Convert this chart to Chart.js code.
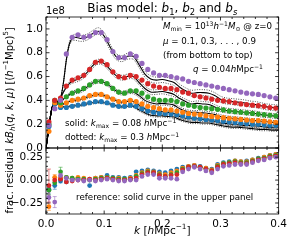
<!DOCTYPE html>
<html>
<head>
<meta charset="utf-8">
<script src="https://cdn.jsdelivr.net/npm/chart.js@4.4.1/dist/chart.umd.min.js"></script>
<style>
html, body { margin: 0; padding: 0; background: #fff; }
canvas { display: block; }
</style>
</head>
<body>
<canvas id="grafico" width="291" height="242"></canvas>
<script>
// k of the measured points [h/Mpc]
const kPontos = [0.005, 0.015, 0.025, 0.035, 0.045, 0.055, 0.065, 0.075, 0.085, 0.095,
    0.105, 0.115, 0.125, 0.135, 0.145, 0.155, 0.165, 0.175, 0.185, 0.195,
    0.205, 0.215, 0.225, 0.235, 0.245, 0.255, 0.265, 0.275, 0.285, 0.295,
    0.305, 0.315, 0.325, 0.335, 0.345, 0.355, 0.365, 0.375, 0.385, 0.395];

// measured k B_h, units of 1e8, mu = 0.9, 0.7, 0.5, 0.3, 0.1
const dadosMu09 = [0.19, 0.33, 0.40, 0.79, 0.93, 0.95, 0.93, 0.94, 0.97, 0.97,
    0.91, 0.81, 0.76, 0.76, 0.79, 0.77, 0.71, 0.66, 0.63, 0.61,
    0.61, 0.60, 0.59, 0.58, 0.56, 0.55, 0.54, 0.53, 0.52, 0.51,
    0.50, 0.49, 0.48, 0.47, 0.46, 0.455, 0.45, 0.44, 0.43, 0.42];
const dadosMu07 = [0.22, 0.40, 0.42, 0.52, 0.57, 0.59, 0.61, 0.66, 0.72, 0.73,
    0.70, 0.64, 0.60, 0.59, 0.61, 0.60, 0.57, 0.54, 0.52, 0.51,
    0.50, 0.50, 0.49, 0.47, 0.46, 0.44, 0.43, 0.42, 0.41, 0.40,
    0.395, 0.39, 0.38, 0.37, 0.365, 0.36, 0.355, 0.35, 0.34, 0.335];
const dadosMu05 = [0.20, 0.40, 0.38, 0.43, 0.46, 0.48, 0.50, 0.53, 0.56, 0.56,
    0.54, 0.50, 0.47, 0.46, 0.48, 0.48, 0.46, 0.43, 0.41, 0.40,
    0.40, 0.40, 0.39, 0.37, 0.36, 0.35, 0.34, 0.335, 0.33, 0.325,
    0.32, 0.31, 0.305, 0.30, 0.295, 0.29, 0.285, 0.28, 0.275, 0.27];
const dadosMu03 = [0.14, 0.38, 0.36, 0.38, 0.40, 0.41, 0.42, 0.44, 0.45, 0.45,
    0.43, 0.41, 0.39, 0.39, 0.40, 0.39, 0.37, 0.35, 0.34, 0.33,
    0.32, 0.32, 0.31, 0.30, 0.29, 0.285, 0.28, 0.27, 0.265, 0.26,
    0.255, 0.25, 0.245, 0.24, 0.235, 0.23, 0.23, 0.225, 0.22, 0.215];
const dadosMu01 = [0.18, 0.37, 0.34, 0.34, 0.35, 0.36, 0.37, 0.38, 0.39, 0.39,
    0.38, 0.36, 0.35, 0.35, 0.36, 0.35, 0.33, 0.31, 0.30, 0.29,
    0.29, 0.285, 0.28, 0.27, 0.26, 0.25, 0.245, 0.24, 0.235, 0.23,
    0.225, 0.22, 0.215, 0.21, 0.205, 0.20, 0.20, 0.195, 0.19, 0.19];

// k of the model curves
const kCurva = [0, 0.005, 0.01, 0.015, 0.02, 0.025, 0.03, 0.035, 0.04, 0.045,
    0.05, 0.06, 0.07, 0.08, 0.09, 0.10, 0.11, 0.12, 0.13, 0.14,
    0.15, 0.16, 0.17, 0.18, 0.19, 0.20, 0.21, 0.22, 0.23, 0.24,
    0.25, 0.26, 0.27, 0.28, 0.29, 0.30, 0.31, 0.32, 0.33, 0.34,
    0.35, 0.36, 0.37, 0.38, 0.39, 0.40];

// solid: kmax = 0.08
const solidoMu09 = [0, 0.17, 0.33, 0.39, 0.39, 0.42, 0.55, 0.74, 0.87, 0.92, 0.93, 0.92, 0.93, 0.96, 0.98, 0.94, 0.85, 0.77, 0.75, 0.77, 0.77, 0.70, 0.62, 0.58, 0.57, 0.575, 0.565, 0.55, 0.51, 0.48, 0.46, 0.465, 0.465, 0.46, 0.44, 0.41, 0.395, 0.39, 0.385, 0.38, 0.37, 0.365, 0.355, 0.345, 0.34, 0.335];
const solidoMu07 = [0, 0.17, 0.33, 0.39, 0.39, 0.42, 0.47, 0.51, 0.54, 0.56, 0.57, 0.59, 0.63, 0.69, 0.725, 0.71, 0.66, 0.61, 0.59, 0.60, 0.60, 0.55, 0.50, 0.47, 0.47, 0.475, 0.465, 0.45, 0.415, 0.39, 0.37, 0.375, 0.37, 0.365, 0.345, 0.325, 0.315, 0.31, 0.305, 0.30, 0.295, 0.29, 0.28, 0.275, 0.27, 0.265];
const solidoMu05 = [0, 0.17, 0.33, 0.39, 0.39, 0.38, 0.41, 0.43, 0.45, 0.46, 0.47, 0.48, 0.51, 0.545, 0.56, 0.55, 0.52, 0.48, 0.46, 0.47, 0.47, 0.44, 0.40, 0.38, 0.37, 0.375, 0.37, 0.36, 0.33, 0.31, 0.30, 0.30, 0.295, 0.29, 0.28, 0.265, 0.255, 0.25, 0.245, 0.24, 0.235, 0.23, 0.225, 0.22, 0.215, 0.21];
const solidoMu03 = [0, 0.17, 0.33, 0.39, 0.38, 0.36, 0.37, 0.38, 0.39, 0.40, 0.40, 0.41, 0.425, 0.44, 0.45, 0.44, 0.42, 0.40, 0.385, 0.39, 0.39, 0.36, 0.33, 0.31, 0.305, 0.305, 0.30, 0.29, 0.265, 0.25, 0.245, 0.245, 0.24, 0.235, 0.225, 0.21, 0.205, 0.20, 0.195, 0.19, 0.19, 0.185, 0.18, 0.175, 0.17, 0.17];
const solidoMu01 = [0, 0.17, 0.33, 0.38, 0.37, 0.35, 0.345, 0.345, 0.35, 0.35, 0.355, 0.36, 0.37, 0.38, 0.385, 0.38, 0.37, 0.355, 0.345, 0.35, 0.35, 0.32, 0.295, 0.275, 0.27, 0.27, 0.265, 0.26, 0.24, 0.225, 0.215, 0.215, 0.21, 0.21, 0.20, 0.19, 0.18, 0.175, 0.175, 0.17, 0.165, 0.16, 0.155, 0.155, 0.15, 0.15];

// dotted: kmax = 0.3 (upper and lower line for each mu)
const pontilhadoCima09 = [0, 0.17, 0.33, 0.39, 0.39, 0.42, 0.555, 0.75, 0.885, 0.94, 0.955, 0.945, 0.955, 0.985, 1.01, 0.97, 0.875, 0.795, 0.775, 0.795, 0.795, 0.725, 0.645, 0.605, 0.595, 0.60, 0.59, 0.575, 0.535, 0.505, 0.485, 0.49, 0.49, 0.485, 0.465, 0.435, 0.42, 0.415, 0.41, 0.405, 0.395, 0.39, 0.38, 0.37, 0.365, 0.36];
const pontilhadoBaixo09 = [0, 0.17, 0.33, 0.39, 0.39, 0.42, 0.545, 0.73, 0.855, 0.90, 0.905, 0.895, 0.905, 0.935, 0.955, 0.915, 0.825, 0.745, 0.725, 0.745, 0.745, 0.675, 0.595, 0.555, 0.545, 0.55, 0.54, 0.525, 0.485, 0.455, 0.435, 0.44, 0.44, 0.435, 0.415, 0.385, 0.37, 0.365, 0.36, 0.355, 0.345, 0.34, 0.33, 0.32, 0.315, 0.31];
const pontilhadoCima07 = [0, 0.17, 0.33, 0.39, 0.39, 0.42, 0.475, 0.52, 0.553, 0.577, 0.59, 0.61, 0.65, 0.71, 0.745, 0.73, 0.68, 0.63, 0.61, 0.62, 0.62, 0.57, 0.52, 0.49, 0.49, 0.495, 0.485, 0.47, 0.435, 0.41, 0.39, 0.395, 0.39, 0.385, 0.365, 0.345, 0.335, 0.33, 0.325, 0.32, 0.315, 0.31, 0.30, 0.295, 0.29, 0.285];
const pontilhadoBaixo07 = [0, 0.17, 0.33, 0.39, 0.39, 0.42, 0.465, 0.50, 0.527, 0.543, 0.55, 0.57, 0.61, 0.67, 0.705, 0.69, 0.64, 0.59, 0.57, 0.58, 0.58, 0.53, 0.48, 0.45, 0.45, 0.455, 0.445, 0.43, 0.395, 0.37, 0.35, 0.355, 0.35, 0.345, 0.325, 0.305, 0.295, 0.29, 0.285, 0.28, 0.275, 0.27, 0.26, 0.255, 0.25, 0.245];
const pontilhadoCima05 = [0, 0.17, 0.33, 0.39, 0.39, 0.38, 0.413, 0.437, 0.46, 0.473, 0.485, 0.495, 0.525, 0.56, 0.575, 0.565, 0.535, 0.495, 0.475, 0.485, 0.485, 0.455, 0.415, 0.395, 0.385, 0.39, 0.385, 0.375, 0.345, 0.325, 0.315, 0.315, 0.31, 0.305, 0.295, 0.28, 0.27, 0.265, 0.26, 0.255, 0.25, 0.245, 0.24, 0.235, 0.23, 0.225];
const pontilhadoBaixo05 = [0, 0.17, 0.33, 0.39, 0.39, 0.38, 0.407, 0.423, 0.44, 0.447, 0.455, 0.465, 0.495, 0.53, 0.545, 0.535, 0.505, 0.465, 0.445, 0.455, 0.455, 0.425, 0.385, 0.365, 0.355, 0.36, 0.355, 0.345, 0.315, 0.295, 0.285, 0.285, 0.28, 0.275, 0.265, 0.25, 0.24, 0.235, 0.23, 0.225, 0.22, 0.215, 0.21, 0.205, 0.20, 0.195];
const pontilhadoCima03 = [0, 0.17, 0.33, 0.39, 0.38, 0.36, 0.372, 0.386, 0.398, 0.41, 0.412, 0.422, 0.437, 0.452, 0.462, 0.452, 0.432, 0.412, 0.397, 0.402, 0.402, 0.372, 0.342, 0.322, 0.317, 0.317, 0.312, 0.302, 0.277, 0.262, 0.257, 0.257, 0.252, 0.247, 0.237, 0.222, 0.217, 0.212, 0.207, 0.202, 0.202, 0.197, 0.192, 0.187, 0.182, 0.182];
const pontilhadoBaixo03 = [0, 0.17, 0.33, 0.39, 0.38, 0.36, 0.368, 0.374, 0.382, 0.39, 0.388, 0.398, 0.413, 0.428, 0.438, 0.428, 0.408, 0.388, 0.373, 0.378, 0.378, 0.348, 0.318, 0.298, 0.293, 0.293, 0.288, 0.278, 0.253, 0.238, 0.233, 0.233, 0.228, 0.223, 0.213, 0.198, 0.193, 0.188, 0.183, 0.178, 0.178, 0.173, 0.168, 0.163, 0.158, 0.158];
const pontilhadoCima01 = [0, 0.17, 0.33, 0.38, 0.37, 0.35, 0.347, 0.35, 0.357, 0.36, 0.365, 0.37, 0.38, 0.39, 0.395, 0.39, 0.38, 0.365, 0.355, 0.36, 0.36, 0.33, 0.305, 0.285, 0.28, 0.28, 0.275, 0.27, 0.25, 0.235, 0.225, 0.225, 0.22, 0.22, 0.21, 0.20, 0.19, 0.185, 0.185, 0.18, 0.175, 0.17, 0.165, 0.165, 0.16, 0.16];
const pontilhadoBaixo01 = [0, 0.17, 0.33, 0.38, 0.37, 0.35, 0.343, 0.34, 0.343, 0.34, 0.345, 0.35, 0.36, 0.37, 0.375, 0.37, 0.36, 0.345, 0.335, 0.34, 0.34, 0.31, 0.285, 0.265, 0.26, 0.26, 0.255, 0.25, 0.23, 0.215, 0.205, 0.205, 0.20, 0.20, 0.19, 0.18, 0.17, 0.165, 0.165, 0.16, 0.155, 0.15, 0.145, 0.145, 0.14, 0.14];

// fractional residual vs the solid curve
const residuoMu01 = [-0.10, -0.06, -0.01, -0.02, 0.01, 0.02, 0.0, -0.06, 0.02, 0.03, 0.05, 0.03, 0.03, 0.02, 0.03, 0.09, 0.10, 0.11, 0.10, 0.09, 0.08, 0.10, 0.12, 0.14, 0.15, 0.16, 0.15, 0.13, 0.12, 0.17, 0.19, 0.20, 0.21, 0.20, 0.21, 0.22, 0.24, 0.25, 0.27, 0.28];
const residuoMu03 = [-0.29, 0.03, 0.02, 0.03, 0.02, 0.03, 0.02, 0.01, 0.02, 0.03, 0.03, 0.02, 0.02, 0.01, 0.02, 0.05, 0.08, 0.10, 0.09, 0.07, 0.06, 0.08, 0.10, 0.13, 0.15, 0.16, 0.14, 0.13, 0.11, 0.16, 0.18, 0.19, 0.21, 0.20, 0.20, 0.22, 0.23, 0.25, 0.27, 0.28];
const residuoMu05 = [-0.11, -0.03, 0.09, 0.03, 0.02, 0.01, 0.01, 0.0, 0.01, 0.02, 0.03, 0.02, 0.01, 0.01, 0.01, 0.04, 0.07, 0.09, 0.08, 0.06, 0.04, 0.06, 0.08, 0.12, 0.14, 0.15, 0.14, 0.12, 0.10, 0.15, 0.18, 0.19, 0.20, 0.19, 0.19, 0.21, 0.23, 0.24, 0.26, 0.27];
const residuoMu07 = [-0.06, 0.0, 0.01, -0.02, -0.01, 0.0, 0.0, 0.01, 0.0, 0.01, 0.02, 0.01, 0.0, 0.0, 0.01, 0.02, 0.06, 0.08, 0.08, 0.05, 0.04, 0.05, 0.06, 0.11, 0.14, 0.15, 0.14, 0.12, 0.10, 0.14, 0.17, 0.18, 0.19, 0.18, 0.18, 0.20, 0.22, 0.23, 0.25, 0.26];
const residuoMu09 = [-0.19, -0.24, 0.05, 0.02, 0.0, 0.0, -0.01, 0.0, -0.01, 0.0, 0.01, 0.0, -0.01, -0.01, 0.0, 0.0, 0.04, 0.06, 0.06, 0.02, 0.02, 0.02, 0.01, 0.09, 0.12, 0.14, 0.12, 0.10, 0.08, 0.12, 0.15, 0.16, 0.17, 0.17, 0.17, 0.19, 0.21, 0.22, 0.24, 0.25];
// error bars of the first points
const erroMu01 = [0.05, 0.04, 0.02];
const erroMu03 = [0.04, 0.03, 0.02];
const erroMu05 = [0.05, 0.03, 0.05];
const erroMu07 = [0.18, 0.03, 0.02];
const erroMu09 = [0.06, 0.06, 0.02];

const ticksX = [0, 0.1, 0.2, 0.3, 0.4];
const ticksY = [0, 0.2, 0.4, 0.6, 0.8, 1.0];
const ticksRes = [-0.25, 0, 0.25];

const cores = {mu01: "#1f77b4", mu03: "#ff7f0e", mu05: "#2ca02c", mu07: "#d62728", mu09: "#9467bd"};
const fonte = '"DejaVu Sans"';

function pares(xs, ys) {
    return ys.map((v, i) => ({x: xs[i], y: v}));
}

function pontos(valores, cor, eixo) {
    return {
        data: pares(kPontos, valores), yAxisID: eixo, showLine: false,
        pointRadius: eixo == "y" ? 2.6 : 2.4, pointBorderWidth: 0,
        pointBackgroundColor: cor, borderColor: cor
    };
}
function curva(valores, pontilhada) {
    return {
        data: pares(kCurva, valores), yAxisID: "y", pointRadius: 0, showLine: true,
        borderColor: pontilhada ? "#222" : "#000",
        borderWidth: pontilhada ? 0.8 : 1.1,
        borderDash: pontilhada ? [1, 1.4] : [], tension: 0.3, fill: false
    };
}

// text with italics / sub / superscripts; largMax squeezes it to a width
function textoRico(ctx, partes, x, y, tam, alinhar, angulo, largMax) {
    ctx.save();
    ctx.translate(x, y);
    if (angulo) ctx.rotate(angulo);
    let fonteDe = f => (f.includes("i") ? "italic " : "") +
        ((f.includes("s") || f.includes("p")) ? tam * 0.7 : tam) + "px " + fonte;
    let largura = 0;
    for (const [t, f] of partes) { ctx.font = fonteDe(f); largura += ctx.measureText(t).width; }
    if (largMax && largura > largMax) { ctx.scale(largMax / largura, 1); }
    let cx = alinhar == "center" ? -largura / 2 : 0;
    ctx.textBaseline = "middle";
    ctx.textAlign = "left";
    ctx.fillStyle = "#000";
    for (const [t, f] of partes) {
        ctx.font = fonteDe(f);
        let dy = f.includes("s") ? tam * 0.28 : f.includes("p") ? -tam * 0.35 : 0;
        ctx.fillText(t, cx, dy);
        cx += ctx.measureText(t).width;
    }
    ctx.restore();
}

const barrasErro = {
    id: "barrasErro",
    beforeDatasetsDraw(chart) {
        const {ctx, scales: {x, yr}} = chart;
        const grupos = [[residuoMu01, erroMu01, cores.mu01], [residuoMu03, erroMu03, cores.mu03],
            [residuoMu05, erroMu05, cores.mu05], [residuoMu07, erroMu07, cores.mu07], [residuoMu09, erroMu09, cores.mu09]];
        ctx.save();
        ctx.globalAlpha = 0.55;
        ctx.lineWidth = 1;
        for (const [res, err, cor] of grupos) {
            ctx.strokeStyle = cor;
            err.forEach((e, i) => {
                let px = x.getPixelForValue(kPontos[i]);
                let y0 = yr.getPixelForValue(res[i] - e), y1 = yr.getPixelForValue(res[i] + e);
                ctx.beginPath();
                ctx.moveTo(px, y0); ctx.lineTo(px, y1);
                ctx.moveTo(px - 2, y0); ctx.lineTo(px + 2, y0);
                ctx.moveTo(px - 2, y1); ctx.lineTo(px + 2, y1);
                ctx.stroke();
            });
        }
        ctx.restore();
    }
};

const molduraTextos = {
    id: "molduraTextos",
    afterDraw(chart) {
        const {ctx, scales: {x, y, yr}} = chart;
        ctx.save();
        ctx.strokeStyle = "#000";
        ctx.lineWidth = 0.8;
        let risco = (a, b, c, d) => { ctx.beginPath(); ctx.moveTo(a, b); ctx.lineTo(c, d); ctx.stroke(); };
        for (const [s, maiores, passoMenor] of [[y, ticksY, 0.05], [yr, ticksRes, 0.05]]) {
            ctx.strokeRect(x.left, s.top, x.right - x.left, s.bottom - s.top);
            for (let v = 0; v <= 0.4001; v += 0.02) {
                let px = x.getPixelForValue(v);
                let maior = ticksX.some(t => Math.abs(t - v) < 1e-6);
                let l = maior ? 3.5 : 2;
                risco(px, s.top, px, s.top + l);
                risco(px, s.bottom, px, s.bottom - l);
            }
            for (let v = Math.ceil(s.min / passoMenor) * passoMenor; v <= s.max + 1e-6; v += passoMenor) {
                let py = s.getPixelForValue(v);
                let maior = maiores.some(t => Math.abs(t - v) < 1e-6);
                let l = maior ? 3.5 : 2;
                risco(x.left, py, x.left + l, py);
                risco(x.right, py, x.right - l, py);
            }
        }
        ctx.restore();

        textoRico(ctx, [["Bias model: ", ""], ["b", "i"], ["1", "s"], [", ", ""], ["b", "i"], ["2", "s"],
            [" and ", ""], ["b", "i"], ["s", "is"]], (x.left + x.right) / 2, 9, 12, "center");
        textoRico(ctx, [["1e8", ""]], x.left, 11, 10, "left");
        textoRico(ctx, [["k", "i"], ["B", "i"], ["h", "is"], ["(", ""], ["q", "i"], [", ", ""], ["k", "i"], [", ", ""],
            ["μ", "i"], [") [(", ""], ["h", "i"], ["−1", "p"], ["Mpc)", ""], ["5", "p"], ["]", ""]],
            10, (y.top + y.bottom) / 2 + 3, 10, "center", -Math.PI / 2);
        textoRico(ctx, [["frac. residual", ""]], 10, (yr.top + yr.bottom) / 2, 10, "center", -Math.PI / 2);
        textoRico(ctx, [["k", "i"], [" [", ""], ["h", "i"], ["Mpc", ""], ["−1", "p"], ["]", ""]],
            (x.left + x.right) / 2, 231, 10.5, "center");

        const t = 8.7;
        textoRico(ctx, [["M", "i"], ["min", "s"], [" = 10", ""], ["13", "p"], ["h", "i"], ["−1", "p"], ["M", "i"],
            ["⊙", "s"], [" @ z=0", ""]], 163, 27, t, "left", 0, 109);
        textoRico(ctx, [["μ", "i"], [" = 0.1, 0.3, . . . , 0.9", ""]], 163, 42, t, "left");
        textoRico(ctx, [["(from bottom to top)", ""]], 163, 56, t, "left");
        textoRico(ctx, [["q", "i"], [" = 0.04", ""], ["h", "i"], ["Mpc", ""], ["−1", "p"]], 193, 70, t, "left");
        textoRico(ctx, [["solid: ", ""], ["k", "i"], ["max", "s"], [" = 0.08 ", ""], ["h", "i"], ["Mpc", ""], ["−1", "p"]],
            65, 124, t, "left");
        textoRico(ctx, [["dotted: ", ""], ["k", "i"], ["max", "s"], [" = 0.3 ", ""], ["h", "i"], ["Mpc", ""], ["−1", "p"]],
            65, 138, t, "left");
        textoRico(ctx, [["reference: solid curve in the upper panel", ""]], 76, 198, t, "left");
    }
};

const fonteTicks = {family: fonte, size: 10.5};
const nomeRes = v => v == 0 ? "0.00" : (v < 0 ? "−" : "") + Math.abs(v).toFixed(2);

let ctx = document.getElementById("grafico").getContext("2d");

let grafico = new Chart(ctx, {
    type: "scatter",
    data: {
        datasets: [
            pontos(dadosMu09, cores.mu09, "y"),
            pontos(dadosMu07, cores.mu07, "y"),
            pontos(dadosMu05, cores.mu05, "y"),
            pontos(dadosMu03, cores.mu03, "y"),
            pontos(dadosMu01, cores.mu01, "y"),
            pontos(residuoMu09, cores.mu09, "yr"),
            pontos(residuoMu07, cores.mu07, "yr"),
            pontos(residuoMu05, cores.mu05, "yr"),
            pontos(residuoMu03, cores.mu03, "yr"),
            pontos(residuoMu01, cores.mu01, "yr"),
            curva(solidoMu09, false),
            curva(solidoMu07, false),
            curva(solidoMu05, false),
            curva(solidoMu03, false),
            curva(solidoMu01, false),
            curva(pontilhadoCima09, true),
            curva(pontilhadoBaixo09, true),
            curva(pontilhadoCima07, true),
            curva(pontilhadoBaixo07, true),
            curva(pontilhadoCima05, true),
            curva(pontilhadoBaixo05, true),
            curva(pontilhadoCima03, true),
            curva(pontilhadoBaixo03, true),
            curva(pontilhadoCima01, true),
            curva(pontilhadoBaixo01, true)
        ]
    },
    options: {
        responsive: false,
        animation: false,
        layout: {padding: {top: 17, right: 12, left: 0, bottom: 0}},
        plugins: {legend: {display: false}, tooltip: {enabled: false}},
        scales: {
            x: {
                type: "linear", min: 0, max: 0.4,
                grid: {display: false, drawTicks: false}, border: {display: false},
                afterBuildTicks: s => { s.ticks = ticksX.map(v => ({value: v})); },
                afterFit: s => { s.height = 28; },
                ticks: {font: fonteTicks, color: "#000", padding: 4, maxRotation: 0, autoSkip: false,
                    callback: v => v.toFixed(1)}
            },
            yr: {
                type: "linear", position: "left", stack: "painel", stackWeight: 66,
                min: -0.37, max: 0.35,
                grid: {display: false, drawTicks: false}, border: {display: false},
                afterBuildTicks: s => { s.ticks = ticksRes.map(v => ({value: v})); },
                afterFit: s => { s.width = 46; },
                ticks: {font: fonteTicks, color: "#000", padding: 3, autoSkip: false, callback: nomeRes}
            },
            y: {
                type: "linear", position: "left", stack: "painel", stackWeight: 131,
                min: 0, max: 1.1,
                grid: {display: false, drawTicks: false}, border: {display: false},
                afterBuildTicks: s => { s.ticks = ticksY.map(v => ({value: v})); },
                afterFit: s => { s.width = 46; },
                ticks: {font: fonteTicks, color: "#000", padding: 3, autoSkip: false,
                    callback: v => v.toFixed(1)}
            }
        }
    },
    plugins: [barrasErro, molduraTextos]
});
</script>
</body>
</html>
